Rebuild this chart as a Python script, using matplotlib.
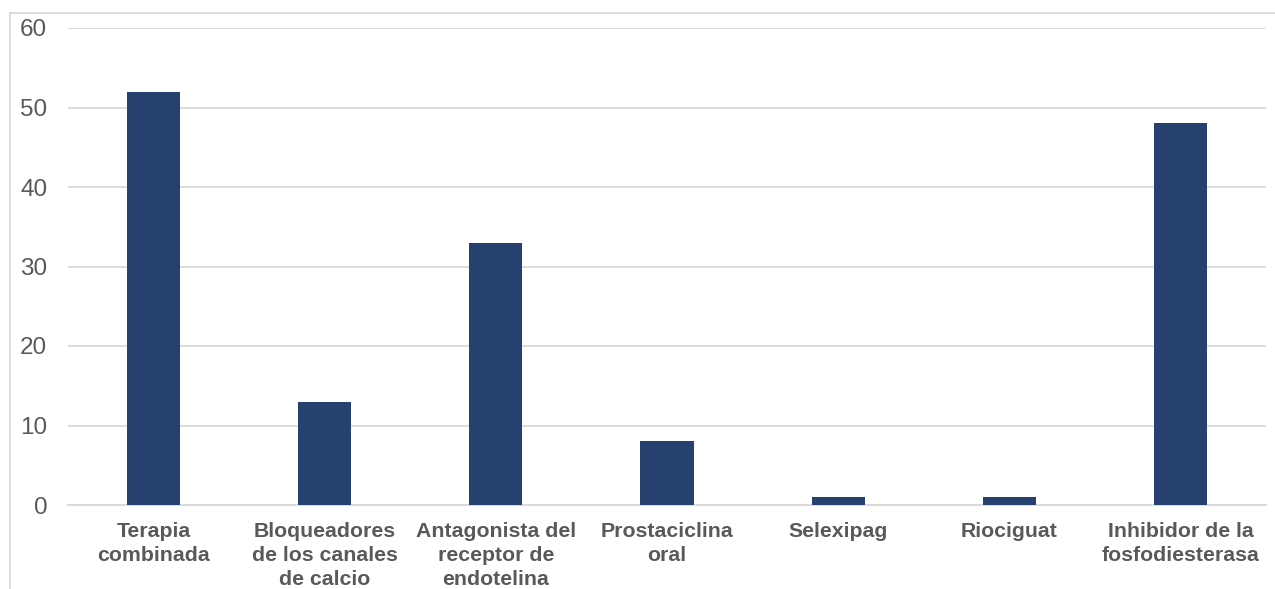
import matplotlib
matplotlib.use("Agg")
import matplotlib.pyplot as plt
from matplotlib.lines import Line2D

categories = [
    "Terapia\ncombinada",
    "Bloqueadores\nde los canales\nde calcio",
    "Antagonista del\nreceptor de\nendotelina",
    "Prostaciclina\noral",
    "Selexipag",
    "Riociguat",
    "Inhibidor de la\nfosfodiesterasa",
]
values = [52, 13, 33, 8, 1, 1, 48]
y_ticks = [0, 10, 20, 30, 40, 50, 60]

BAR_COLOR = "#264070"
GRID_COLOR = "#d9d9d9"
TEXT_COLOR = "#595959"

plt.rcParams["font.family"] = ["Liberation Sans", "DejaVu Sans"]

fig = plt.figure(figsize=(12.75, 5.89), dpi=100)
ax = fig.add_axes([68 / 1275, 1 - 505 / 589, (1266 - 68) / 1275, (505 - 28) / 589])

x = list(range(len(categories)))
ax.bar(x, values, width=0.31, color=BAR_COLOR, zorder=3)

ax.set_xlim(-0.5, len(categories) - 0.5)
ax.set_ylim(0, 60)
ax.set_yticks(y_ticks)
ax.set_yticklabels([str(v) for v in y_ticks], fontsize=17.5, color=TEXT_COLOR)
ax.set_xticks(x)
ax.set_xticklabels(categories, fontsize=15.3, fontweight="bold", color=TEXT_COLOR,
                   linespacing=1.36)
ax.tick_params(axis="y", length=0, pad=15)
ax.tick_params(axis="x", length=0, pad=12)
ax.grid(axis="y", color=GRID_COLOR, linewidth=1.3, zorder=0)
for side in ["top", "right", "left"]:
    ax.spines[side].set_visible(False)
ax.spines["bottom"].set_color(GRID_COLOR)
ax.spines["bottom"].set_linewidth(1.3)

# outer chart-area border (top and left edges visible)
fig.add_artist(Line2D([10 / 1275, 1.0], [1 - 13 / 589, 1 - 13 / 589],
                      color=GRID_COLOR, linewidth=1.3, transform=fig.transFigure))
fig.add_artist(Line2D([10 / 1275, 10 / 1275], [0.0, 1 - 13 / 589],
                      color=GRID_COLOR, linewidth=1.3, transform=fig.transFigure))

fig.savefig("out.png", dpi=100)
